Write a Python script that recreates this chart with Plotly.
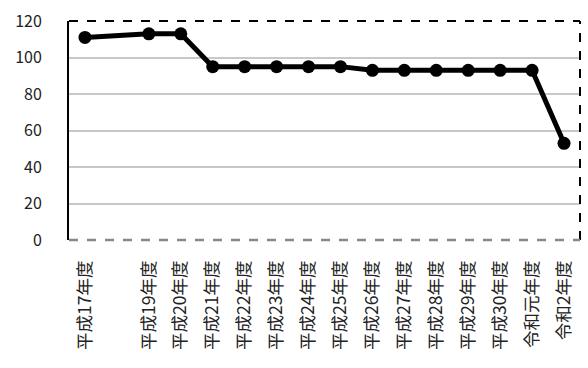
import plotly.graph_objects as go

# Fiscal years on the x axis; the slot after 平成17年度 has no entry
tick_labels = ["平成17年度", "", "平成19年度", "平成20年度", "平成21年度", "平成22年度",
               "平成23年度", "平成24年度", "平成25年度", "平成26年度", "平成27年度",
               "平成28年度", "平成29年度", "平成30年度", "令和元年度", "令和2年度"]
values = [111, None, 113, 113, 95, 95, 95, 95, 95, 93, 93, 93, 93, 93, 93, 53]
y_ticks = [0, 20, 40, 60, 80, 100, 120]

positions = list(range(len(tick_labels)))
FONT = "Noto Sans CJK JP"

fig = go.Figure()
fig.add_trace(go.Scatter(
    x=positions, y=values, mode="lines+markers", connectgaps=True,
    line=dict(color="black", width=5),
    marker=dict(color="black", size=13),
    hoverinfo="skip",
))

fig.update_layout(
    width=588, height=368,
    margin=dict(l=69, r=8, t=16, b=128),
    paper_bgcolor="white", plot_bgcolor="white",
    showlegend=False,
    font=dict(family=FONT, size=16, color="#222222"),
    xaxis=dict(
        range=[-0.5, len(tick_labels) - 0.5],
        tickmode="array", tickvals=positions, ticktext=tick_labels,
        tickangle=-90, showgrid=False, zeroline=False, showline=False,
        ticks="", ticklabelstandoff=16,
        tickfont=dict(family=FONT, size=17.5, color="#222222"),
    ),
    yaxis=dict(
        range=[0, 120], tickmode="array", tickvals=y_ticks,
        showgrid=True, gridcolor="#c8c8c8", gridwidth=1.5,
        zeroline=False, showline=True, linecolor="black", linewidth=2,
        ticks="", ticklabelstandoff=22,
        tickfont=dict(family=FONT, size=16, color="#222222"),
    ),
    shapes=[
        # dashed frame on top and right
        dict(type="line", xref="paper", yref="paper", x0=0, x1=1, y0=1, y1=1,
             line=dict(color="black", width=2, dash="dash")),
        dict(type="line", xref="paper", yref="paper", x0=1, x1=1, y0=0, y1=1,
             line=dict(color="black", width=2, dash="dash")),
        # grey dashed baseline
        dict(type="line", xref="paper", yref="paper", x0=0, x1=1, y0=0, y1=0,
             line=dict(color="#888888", width=2.5, dash="dash")),
    ],
)

fig.write_html("out.html")
